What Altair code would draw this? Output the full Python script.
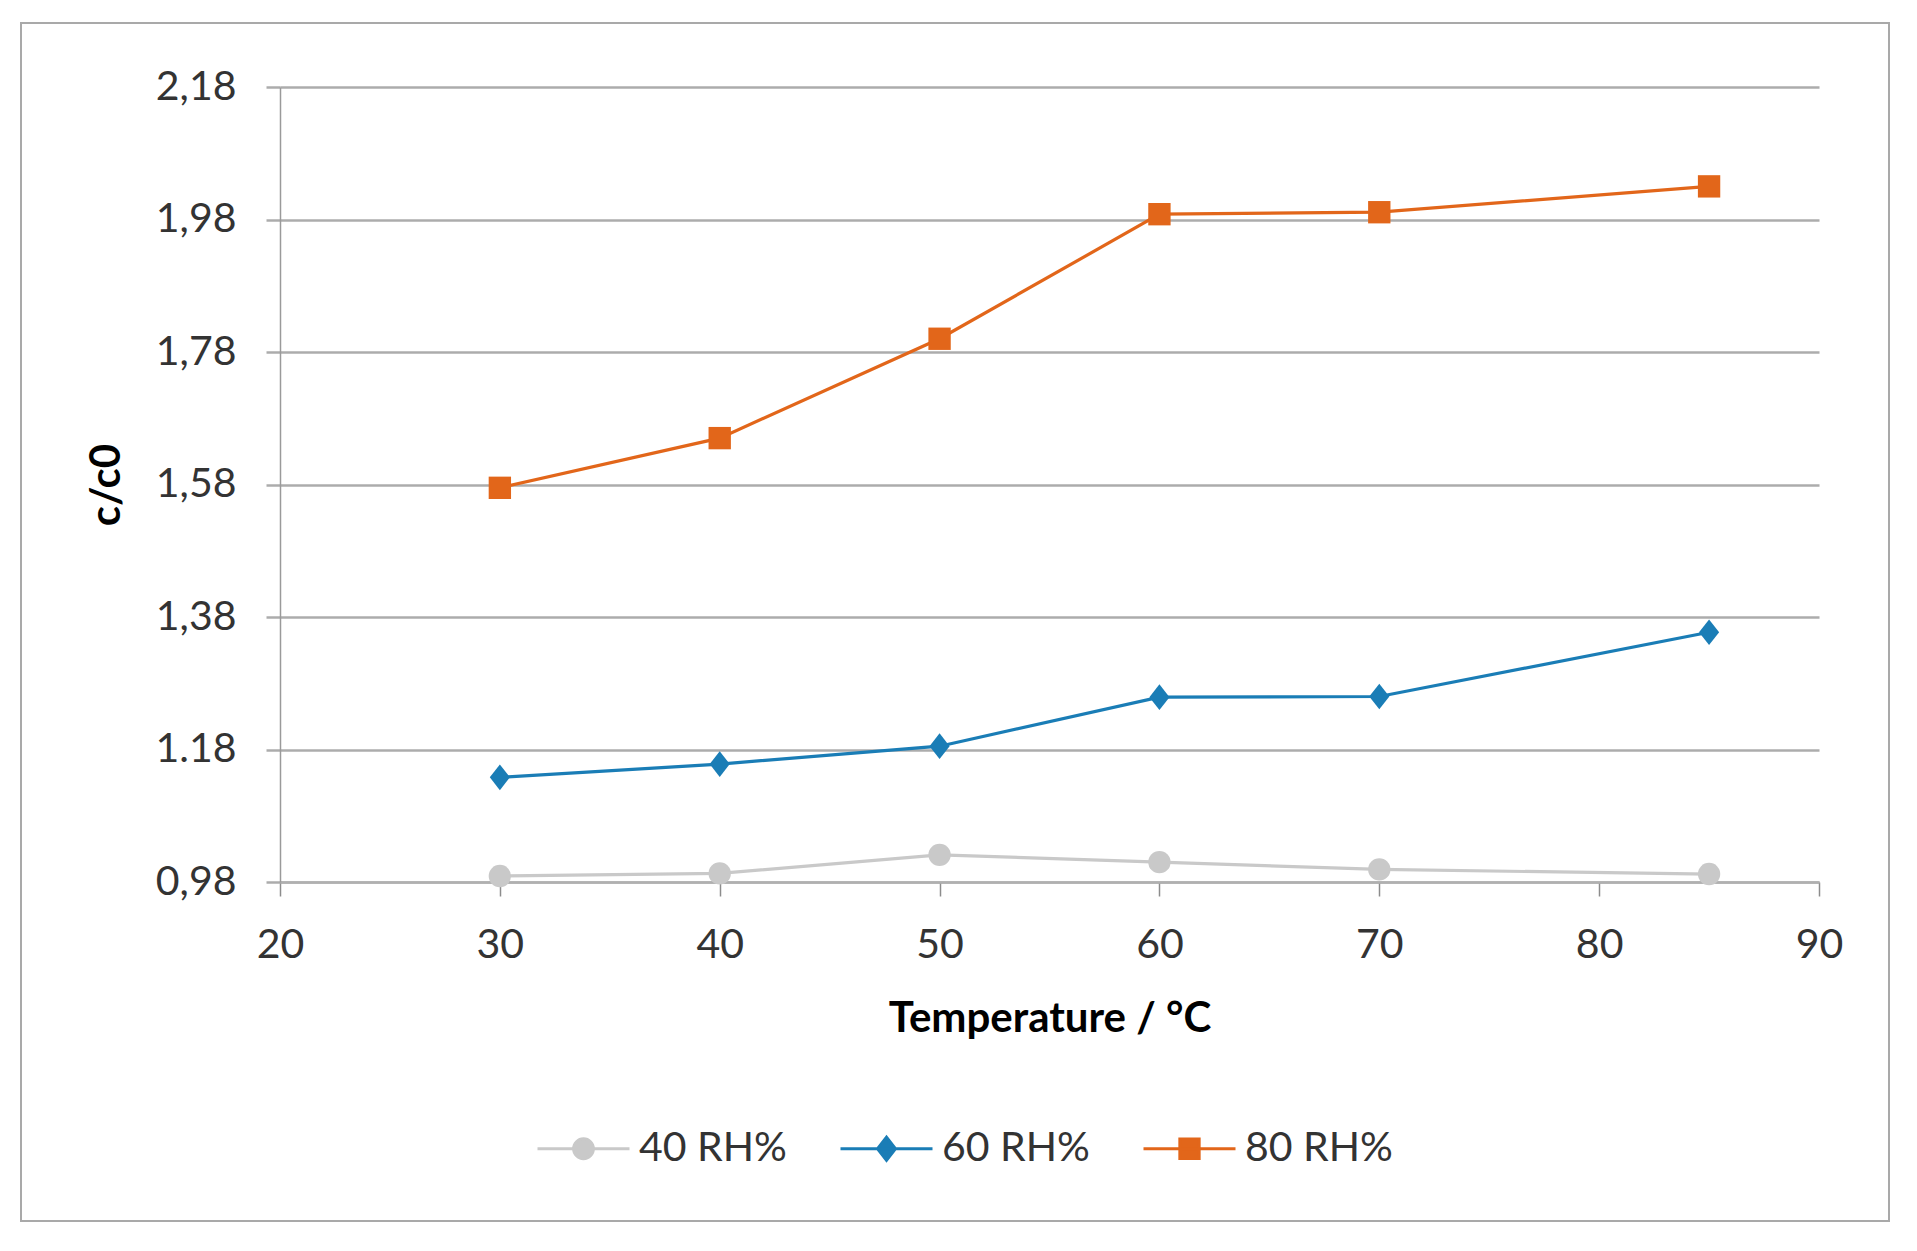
import altair as alt
import pandas as pd

# ---- data ----
temps = [30, 40, 50, 60, 70, 85]
rh40 = [0.989, 0.993, 1.021, 1.010, 0.999, 0.992]
rh60 = [1.138, 1.158, 1.185, 1.259, 1.260, 1.357]
rh80 = [1.575, 1.650, 1.800, 1.988, 1.991, 2.030]
series = ["40 RH%", "60 RH%", "80 RH%"]
colors = ["#C9C9C9", "#1A7DB6", "#E2661A"]
y_ticks = [0.98, 1.18, 1.38, 1.58, 1.78, 1.98, 2.18]
x_ticks = [20, 30, 40, 50, 60, 70, 80, 90]

rows = []
for name, vals in zip(series, [rh40, rh60, rh80]):
    for t, v in zip(temps, vals):
        rows.append({"Temperature": t, "c": v, "Series": name})
df = pd.DataFrame(rows)

FONT = "Lato"

# marker shapes in the plot
diamond = "M0,-1.15L0.9,0L0,1.15L-0.9,0Z"
plot_shapes = ["circle", diamond, "square"]

# legend symbols: a short line with the marker in its middle
leg_circle = "M-1,0L1,0M0.215,0A0.215,0.215 0 1 1 -0.215,0A0.215,0.215 0 1 1 0.215,0Z"
leg_diamond = "M-1,0L1,0M0,-0.25L0.195,0L0,0.25L-0.195,0Z"
leg_square = "M-1,0L1,0M-0.21,-0.21L0.21,-0.21L0.21,0.21L-0.21,0.21Z"
legend_shapes = [leg_circle, leg_diamond, leg_square]

label_expr = ("abs(datum.value - 1.18) < 0.0001 ? '1.18' : "
              "replace(format(datum.value, '.2f'), '.', ',')")

x_enc = alt.X(
    "Temperature:Q",
    scale=alt.Scale(domain=[20, 90], nice=False, zero=False),
    axis=alt.Axis(values=x_ticks, format="d", title="Temperature / °C", grid=False,
                  tickSize=14, tickColor="#8c8c8c", tickWidth=1.5,
                  domainColor="#b0b0b0", domainWidth=2.5, labelFlush=False,
                  labelPadding=29, titlePadding=33),
)
y_enc = alt.Y(
    "c:Q",
    scale=alt.Scale(domain=[0.98, 2.18], nice=False, zero=False),
    axis=alt.Axis(values=y_ticks, labelExpr=label_expr, title="c/c0", grid=True,
                  gridColor="#acacac", gridWidth=2.5,
                  tickSize=14, tickColor="#acacac", tickWidth=2.5,
                  domainColor="#9a9a9a", domainWidth=1.5, labelFlush=False,
                  labelPadding=30, titlePadding=26),
)

color_scale = alt.Scale(domain=series, range=colors)

frame = alt.Chart(pd.DataFrame({"frame": [0]})).mark_rect(
    fill="transparent", stroke="#a9a9a9", strokeWidth=2
).encode(x=alt.value(-259), x2=alt.value(1609), y=alt.value(-64), y2=alt.value(1134))

lines = alt.Chart(df).mark_line(strokeWidth=3.2).encode(
    x=x_enc, y=y_enc,
    color=alt.Color("Series:N", scale=color_scale, legend=None),
    order=alt.Order("Temperature:Q"),
)

points = alt.Chart(df).mark_point(filled=True, size=500, opacity=1).encode(
    x=x_enc, y=y_enc,
    color=alt.Color("Series:N", scale=color_scale, legend=None),
    shape=alt.Shape("Series:N", scale=alt.Scale(domain=series, range=plot_shapes), legend=None),
)

leg = alt.Legend(
    title=None, orient="none", legendX=256, legendY=1014, direction="horizontal",
    symbolSize=8464, symbolStrokeWidth=3, symbolOpacity=1,
    labelFont=FONT, labelFontSize=41, labelColor="#333333", labelOffset=8,
    columnPadding=47, padding=0,
)

legend_layer = alt.Chart(df).transform_filter("datum.c > 100").mark_point(
    filled=True, opacity=1, strokeWidth=3
).encode(
    x=x_enc, y=y_enc,
    fill=alt.Fill("Series:N", scale=alt.Scale(domain=series, range=colors), legend=leg),
    stroke=alt.Stroke("Series:N", scale=alt.Scale(domain=series, range=colors), legend=leg),
    shape=alt.Shape("Series:N", scale=alt.Scale(domain=series, range=legend_shapes), legend=leg),
)

chart = alt.layer(frame, lines, points, legend_layer).resolve_scale(
    shape="independent", fill="independent", stroke="independent"
).properties(
    width=1539, height=795,
    autosize=alt.AutoSizeParams(type="none"),
    padding={"left": 272, "top": 79, "right": 80, "bottom": 350},
).configure(
    font=FONT,
).configure_axis(
    labelFont=FONT, labelFontSize=41, labelColor="#333333",
    titleFont=FONT, titleFontSize=42, titleFontWeight="bold", titleColor="#000000",
).configure_view(
    stroke=None,
)

chart.save("out.html", embed_options={"renderer": "svg", "actions": False})
